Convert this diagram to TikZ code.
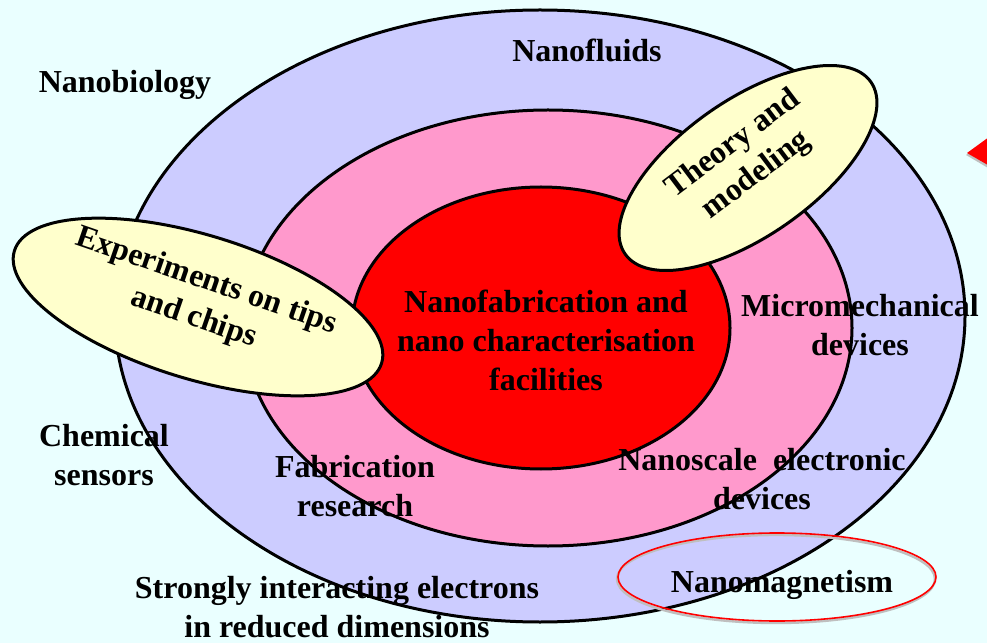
\documentclass[tikz,border=0pt]{standalone}
\usepackage{fontspec}
\setmainfont{Liberation Serif}
\definecolor{bgc}{RGB}{234,255,255}
\definecolor{lav}{RGB}{204,204,255}
\definecolor{pinkc}{RGB}{255,153,204}
\definecolor{redc}{RGB}{255,0,0}
\definecolor{yel}{RGB}{255,255,204}
\begin{document}
\begin{tikzpicture}[x=1pt,y=1pt,
  lbl/.style={font=\fontsize{32}{39}\selectfont\bfseries, align=center, inner sep=0pt, text=black},
  ring/.style={draw=black, line width=3pt}]
\fill[bgc] (0,0) rectangle (987,643);
\useasboundingbox (0,0) rectangle (987,643);
\clip (0,0) rectangle (987,643);
% rings
\filldraw[ring, fill=lav] (540,327) ellipse [x radius=425, y radius=306];
\filldraw[ring, fill=pinkc] (548,315) ellipse [x radius=304, y radius=218];
\filldraw[ring, fill=redc] (541,315) ellipse [x radius=189, y radius=141];
% yellow ellipses
\filldraw[ring, fill=yel, rotate around={-17:(198,336)}] (198,336) ellipse [x radius=192, y radius=72];
\filldraw[ring, fill=yel, rotate around={35:(748,475)}] (748,475) ellipse [x radius=150, y radius=68];
% nanomagnetism highlight
\draw[black!25, line width=2.4pt] (776,64) ellipse [x radius=159, y radius=44];
\draw[redc, line width=1.6pt] (777,66) ellipse [x radius=159, y radius=44];
% red triangle at right edge
\fill[black!25] (966,488) -- (1000,512) -- (1000,468) -- cycle;
\fill[redc] (967,490) -- (1000,514) -- (1000,471) -- cycle;
% labels
\node[lbl] (fluids) at (587,593) {Nanofluids};
\node[lbl] (bio) at (125,558) {Nanobiology};
\node[lbl, rotate=37] (theory) at (745,483) {Theory and\\modeling};
\node[lbl, rotate=-19] (exper) at (200,343) {Experiments on tips\\and chips};
\node[lbl] (fab) at (546,303) {Nanofabrication and\\nano characterisation\\facilities};
\node[lbl] (micro) at (860,318) {Micromechanical\\devices};
\node[lbl] (chem) at (104,188) {Chemical\\sensors};
\node[lbl] (fabres) at (355,157) {Fabrication\\research};
\node[lbl] (nanoel) at (762,164) {Nanoscale\ \ electronic\\devices};
\node[lbl] (strong) at (337,36) {Strongly interacting electrons\\in reduced dimensions};
\node[lbl] (magn) at (782,58) {Nanomagnetism};
\end{tikzpicture}
\end{document}
